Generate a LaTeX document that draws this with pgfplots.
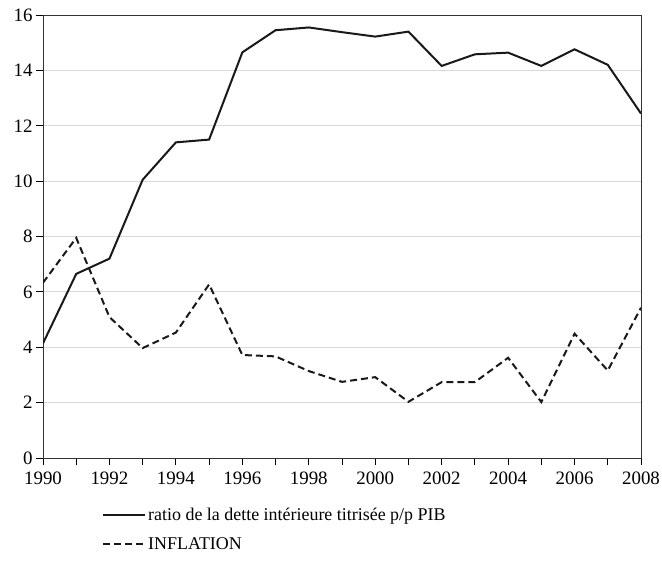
\documentclass[border=0pt]{standalone}
\usepackage{fontspec}
\setmainfont{Liberation Serif}
\usepackage{pgfplots}
\pgfplotsset{compat=1.18}
\begin{document}
\begin{tikzpicture}
\path[use as bounding box] (-43bp,-125bp) rectangle (619bp,458bp);
\begin{axis}[
  at={(0,0)}, anchor=south west,
  scale only axis,
  width=598bp, height=443bp,
  xmin=1990, xmax=2008, ymin=0, ymax=16,
  xtick={1990,1992,...,2008},
  minor xtick={1991,1993,...,2007},
  ytick={0,2,...,16},
  xtick pos=left, ytick pos=left,
  tick align=outside,
  major tick length=7bp, minor tick length=7bp,
  tick style={black, line width=0.8bp},
  ymajorgrids, grid style={gray!30, line width=0.8bp},
  axis line style={black!80, line width=0.8bp},
  /pgf/number format/1000 sep={},
  /pgf/number format/assume math mode=true,
  tick label style={font=\fontsize{19}{22}\selectfont},
  xticklabel style={yshift=-3bp},
  legend style={at={(57bp,-46bp)}, anchor=north west, draw=none, fill=none,
    font=\fontsize{18}{21}\selectfont, row sep=11bp, cells={anchor=west},
    inner sep=2bp},
  legend cell align=left,
  legend image code/.code={\draw[#1] (0bp,0bp) -- (42bp,0bp);},
]
\addplot[black!90, line width=2bp] coordinates {
(1990,4.14) (1991,6.65) (1992,7.2) (1993,10.05) (1994,11.4) (1995,11.5)
(1996,14.65) (1997,15.45) (1998,15.55) (1999,15.38) (2000,15.22) (2001,15.4)
(2002,14.16) (2003,14.58) (2004,14.64) (2005,14.16) (2006,14.76) (2007,14.2) (2008,12.44)};
\addlegendentry{ratio de la dette intérieure titrisée p/p PIB}
\addplot[black!90, line width=2bp, dash pattern=on 7bp off 4bp] coordinates {
(1990,6.33) (1991,7.95) (1992,5.09) (1993,3.97) (1994,4.53) (1995,6.27)
(1996,3.72) (1997,3.67) (1998,3.14) (1999,2.75) (2000,2.92) (2001,2.03)
(2002,2.74) (2003,2.74) (2004,3.62) (2005,2.02) (2006,4.49) (2007,3.16) (2008,5.43)};
\addlegendentry{INFLATION}
\end{axis}
\end{tikzpicture}
\end{document}
